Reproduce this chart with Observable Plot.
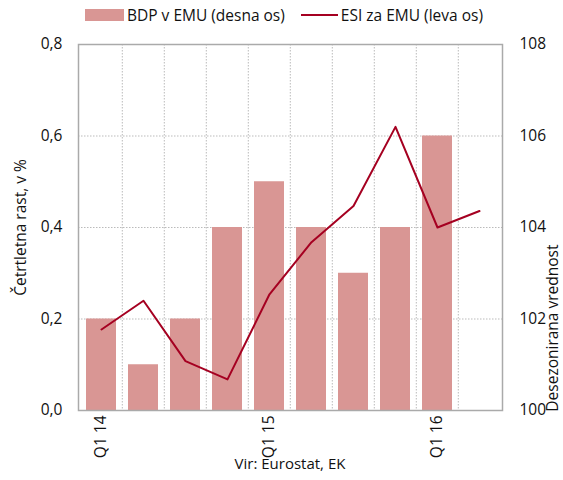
<!DOCTYPE html>
<html>
<head>
<meta charset="utf-8">
<script src="https://cdn.jsdelivr.net/npm/d3@7"></script>
<script src="https://cdn.jsdelivr.net/npm/@observablehq/plot@0.6"></script>
<style>
  body { margin: 0; background: #fff; font-family: "Open Sans", sans-serif; }
  #wrap { width: 563px; position: relative; }
  .legend { height: 30px; display: flex; align-items: center; font-size: 15.5px; color: #111; padding-left: 85px; box-sizing: border-box; }
  .legend .item { display: flex; align-items: center; margin-right: 16px; }
  .legend .sw-bar { width: 39px; height: 12px; background: #D99694; margin-right: 3px; }
  .legend .sw-line { width: 37px; height: 2px; background: #A50021; margin-right: 3px; }
  .caption { font-size: 15px; color: #111; width: 424px; margin-left: 78px; text-align: center; margin-top: -12px; position: relative; }
  svg text { font-family: "Open Sans", sans-serif; }
</style>
</head>
<body>
<div id="wrap">
  <div class="legend">
    <div class="item"><div class="sw-bar"></div><span>BDP v EMU (desna os)</span></div>
    <div class="item"><div class="sw-line"></div><span>ESI za EMU (leva os)</span></div>
  </div>
  <div id="chart"></div>
  <div class="caption">Vir: Eurostat, EK</div>
</div>
<script>
const quarters = ["Q1 14","Q2 14","Q3 14","Q4 14","Q1 15","Q2 15","Q3 15","Q4 15","Q1 16","Q2 16"];
const gdpGrowth = [0.2, 0.1, 0.2, 0.4, 0.5, 0.4, 0.3, 0.4, 0.6, null];
const esi = [101.77, 102.4, 101.08, 100.68, 102.54, 103.68, 104.47, 106.2, 104.0, 104.36];
const leftTicks = [0, 0.2, 0.4, 0.6, 0.8];
const rightTicks = [100, 102, 104, 106, 108];
const xTickLabels = ["Q1 14", "Q1 15", "Q1 16"];
const leftTitle = "Četrtletna rast, v %";
const rightTitle = "Desezonirana vrednost";

// map right-axis domain [100,108] onto left-axis domain [0,0.8]
const rightToLeft = d3.scaleLinear().domain([100, 108]).range([0, 0.8]);

const bars = quarters.map((q, i) => ({q, v: gdpGrowth[i]})).filter(d => d.v != null);
const line = quarters.map((q, i) => ({q, v: rightToLeft(esi[i])}));

const width = 563, marginLeft = 78, marginRight = 61;
const step = (width - marginLeft - marginRight) / quarters.length;

const chart = Plot.plot({
  width,
  height: 435,
  marginTop: 14,
  marginBottom: 55,
  marginLeft,
  marginRight,
  style: {fontSize: "15.5px", color: "#111", background: "#fff", overflow: "visible"},
  x: {domain: quarters, paddingInner: 0.29, paddingOuter: 0.145, align: 0.5},
  y: {domain: [0, 0.8]},
  marks: [
    Plot.ruleY([0.2, 0.4, 0.6], {stroke: "#bbb", strokeDasharray: "1.5,1.5", strokeWidth: 1}),
    Plot.ruleX(quarters.slice(1), {x: d => d, dx: -step / 2, stroke: "#bbb", strokeDasharray: "1.5,1.5", strokeWidth: 1}),
    Plot.barY(bars, {x: "q", y: "v", fill: "#D99694"}),
    Plot.lineY(line, {x: "q", y: "v", stroke: "#A50021", strokeWidth: 2}),
    Plot.frame({stroke: "#aaa", strokeWidth: 1.5}),
    Plot.axisY(leftTicks, {
      anchor: "left", tickSize: 0, tickPadding: 16,
      tickFormat: d => d3.format(".1f")(d).replace(".", ","),
      label: leftTitle, labelAnchor: "center", labelOffset: 64, labelArrow: "none"
    }),
    Plot.axisY(rightTicks.map(rightToLeft), {
      anchor: "right", tickSize: 0, tickPadding: 17,
      tickFormat: d => d3.format(".0f")(rightToLeft.invert(d)),
      label: null
    }),
    Plot.text([rightTitle], {
      frameAnchor: "right", rotate: -90, dx: 51, dy: 17, text: d => d, fontSize: 15.5, fill: "#111"
    }),
    Plot.axisX({
      anchor: "bottom", tickSize: 0, tickPadding: 5, tickRotate: -90,
      tickFormat: d => xTickLabels.includes(d) ? d : "",
      label: null
    })
  ]
});
document.getElementById("chart").appendChild(chart);
</script>
</body>
</html>
